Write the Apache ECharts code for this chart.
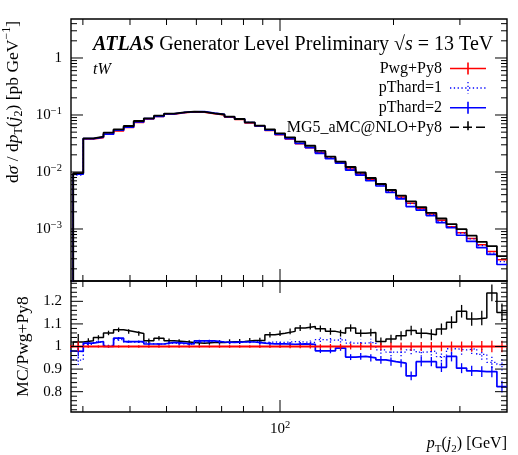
<!DOCTYPE html>
<html>
<head>
<meta charset="utf-8">
<title>tW pT(j2)</title>
<script src="https://cdn.jsdelivr.net/npm/echarts@6/dist/echarts.min.js"></script>
<style>
html, body { margin: 0; padding: 0; background: #fff; }
#chart { width: 518px; height: 455px; }
</style>
</head>
<body>
<div id="chart"></div>
<script>
// pT(j2) bin edges [GeV]
const binEdges = [26.589, 28.278, 30.075, 31.987, 34.020, 36.182, 38.481, 40.927, 43.528, 46.294,
  49.236, 52.365, 55.693, 59.232, 62.997, 67.000, 71.258, 75.786, 80.603, 85.725,
  91.173, 96.967, 103.13, 109.68, 116.65, 124.07, 131.95, 140.34, 149.26, 158.74,
  168.83, 179.56, 190.97, 203.11, 216.01, 229.74, 244.34, 259.87, 276.39, 293.95,
  312.63, 332.50, 353.63, 376.10, 400.00];

// dsigma/dpT for Pwg+Py8 [pb/GeV]
const pwgPy8 = [1e-5, 0.0094, 0.0380, 0.0400, 0.0461, 0.0522, 0.0601, 0.0742, 0.0854, 0.0937,
  0.1028, 0.1091, 0.1128, 0.1119, 0.1052, 0.1002, 0.0915, 0.0833, 0.0724, 0.0632,
  0.0533, 0.0450, 0.0381, 0.0314, 0.0265, 0.0217, 0.0174, 0.0144, 0.0113, 0.00925,
  0.00739, 0.00603, 0.00468, 0.00366, 0.00284, 0.00229, 0.00183, 0.00142, 0.00110, 0.00086,
  0.00068, 0.00053, 0.000405, 0.00029];

// MC / Pwg+Py8
const ratioPthard1 = [0.95, 0.94, 1.01, 1.02, 1.005, 1.03, 1.02, 1.02, 1.012, 1.01,
  1.015, 1.012, 1.01, 1.02, 1.022, 1.02, 1.018, 1.02, 1.022, 1.018,
  1.02, 1.018, 1.022, 1.02, 1.018, 1.03, 1.028, 1.03, 1.015, 1.015,
  1.018, 0.985, 0.975, 0.975, 0.985, 0.975, 0.98, 0.955, 0.99, 0.985,
  0.99, 0.965, 0.93, 0.92];
const ratioPthard2 = [0.98, 0.978, 1.015, 1.022, 1.0, 1.037, 1.022, 1.022, 1.011, 1.011,
  1.018, 1.015, 1.011, 1.025, 1.025, 1.02, 1.018, 1.02, 1.02, 1.015,
  1.012, 1.012, 1.01, 1.012, 1.01, 0.981, 0.981, 0.993, 0.953, 0.956,
  0.95, 0.941, 0.933, 0.926, 0.87, 0.933, 0.933, 0.908, 0.956, 0.904,
  0.892, 0.889, 0.889, 0.822];
const ratioMG5 = [1.0, 1.02, 1.025, 1.04, 1.06, 1.074, 1.066, 1.058, 1.025, 1.037,
  1.025, 1.022, 1.018, 1.014, 1.018, 1.018, 1.021, 1.022, 1.027, 1.027,
  1.052, 1.059, 1.067, 1.082, 1.089, 1.079, 1.067, 1.059, 1.082, 1.059,
  1.062, 1.022, 1.033, 1.048, 1.071, 1.059, 1.052, 1.077, 1.107, 1.156,
  1.122, 1.126, 1.237, 1.15];

// stat. uncertainties on the ratio
const errPwg = [0.03, 0.022, 0.006, 0.005, 0.005, 0.005, 0.005, 0.005, 0.005, 0.005,
  0.005, 0.005, 0.005, 0.005, 0.005, 0.006, 0.006, 0.006, 0.006, 0.007,
  0.007, 0.007, 0.008, 0.008, 0.009, 0.01, 0.011, 0.012, 0.013, 0.015,
  0.016, 0.017, 0.018, 0.018, 0.019, 0.02, 0.02, 0.021, 0.022, 0.022,
  0.023, 0.024, 0.025, 0.026];
const errMG5 = [0.04, 0.035, 0.012, 0.01, 0.01, 0.01, 0.01, 0.01, 0.01, 0.01,
  0.01, 0.01, 0.01, 0.01, 0.01, 0.01, 0.011, 0.011, 0.011, 0.012,
  0.012, 0.012, 0.013, 0.013, 0.014, 0.014, 0.015, 0.015, 0.016, 0.016,
  0.017, 0.018, 0.019, 0.02, 0.021, 0.022, 0.024, 0.025, 0.027, 0.028,
  0.03, 0.032, 0.037, 0.04];

const legendNames = ['Pwg+Py8', 'pThard=1', 'pThard=2', 'MG5_aMC@NLO+Py8'];
const xMajorTicks = [100];
const xMinorTicks = [30, 40, 50, 60, 70, 80, 90, 200, 300];
const ratioMajorTicks = [0.8, 0.9, 1.0, 1.1, 1.2];

const X_MIN = 27.9, X_MAX = 400;
const Y_MIN = 1.224e-4, Y_MAX = 4.83;
const R_MIN = 0.71, R_MAX = 1.29;
const FONT = '"Liberation Serif", "DejaVu Serif", serif';

// log minor ticks 2..9 x 10^k inside the y range
const yMajorTicks = [1e-3, 1e-2, 1e-1, 1];
const yMinorTicks = [];
for (let k = -4; k <= 0; k++) {
  for (let m = 2; m <= 9; m++) {
    const v = m * Math.pow(10, k);
    if (v > Y_MIN && v < Y_MAX) yMinorTicks.push(v);
  }
}
const ratioMinorTicks = [];
for (let t = 72; t <= 128; t += 2) {
  if (t % 10 !== 0) ratioMinorTicks.push(t / 100);
}

const mainPthard1 = pwgPy8.map((v, i) => v * ratioPthard1[i]);
const mainPthard2 = pwgPy8.map((v, i) => v * ratioPthard2[i]);
const mainMG5 = pwgPy8.map((v, i) => v * ratioMG5[i]);
const ratioPwg = pwgPy8.map(v => v / v);

function stepData(vals) {
  const d = vals.map((v, i) => [binEdges[i], v]);
  d.push([binEdges[vals.length], vals[vals.length - 1]]);
  return d;
}

function histo(vals, grid, color, width, type, z) {
  return {
    type: 'line', xAxisIndex: grid, yAxisIndex: grid, step: 'end',
    data: stepData(vals), symbol: 'none', showSymbol: false, silent: true,
    clip: true, z: z,
    lineStyle: { color: color, width: width, type: type }
  };
}

function errBars(vals, errs, color, dash, z) {
  const data = [];
  for (let i = 0; i < vals.length; i++) {
    const c = Math.sqrt(binEdges[i] * binEdges[i + 1]);
    if (c > X_MIN) data.push([c, vals[i], errs[i]]);
  }
  return {
    type: 'custom', xAxisIndex: 1, yAxisIndex: 1, silent: true, z: z, data: data,
    renderItem: function (params, api) {
      const x = api.value(0), y = api.value(1), e = api.value(2);
      const p1 = api.coord([x, y - e]);
      const p2 = api.coord([x, y + e]);
      return {
        type: 'line',
        shape: { x1: p1[0], y1: p1[1], x2: p2[0], y2: p2[1] },
        style: { stroke: color, lineWidth: 1.3, lineDash: dash }
      };
    }
  };
}

function seg(x1, y1, x2, y2) {
  return { type: 'line', shape: { x1: x1, y1: y1, x2: x2, y2: y2 }, style: { stroke: '#000', lineWidth: 1 } };
}

// inside ticks on all four sides of a panel
function ticks(grid, ref, yMaj, yMin) {
  return {
    type: 'custom', xAxisIndex: grid, yAxisIndex: grid, silent: true, z: 20,
    data: [ref],
    renderItem: function (params, api) {
      const cs = params.coordSys;
      const kids = [];
      const xs = xMajorTicks.map(v => [v, 12]).concat(xMinorTicks.map(v => [v, 6]));
      const ys = yMaj.map(v => [v, 12]).concat(yMin.map(v => [v, 6]));
      xs.forEach(function (t) {
        const px = api.coord([t[0], ref[1]])[0];
        kids.push(seg(px, cs.y, px, cs.y + t[1]));
        kids.push(seg(px, cs.y + cs.height, px, cs.y + cs.height - t[1]));
      });
      ys.forEach(function (t) {
        const py = api.coord([ref[0], t[0]])[1];
        kids.push(seg(cs.x, py, cs.x + t[1], py));
        kids.push(seg(cs.x + cs.width, py, cs.x + cs.width - t[1], py));
      });
      return { type: 'group', children: kids };
    }
  };
}

const richSmall = {
  n: { fontFamily: FONT, fontSize: 16, color: '#000', lineHeight: 22 },
  i: { fontFamily: FONT, fontSize: 16, fontStyle: 'italic', color: '#000', lineHeight: 22 },
  sub: { fontFamily: FONT, fontSize: 11, color: '#000', lineHeight: 11, verticalAlign: 'bottom' },
  sup: { fontFamily: FONT, fontSize: 11, color: '#000', lineHeight: 11, verticalAlign: 'top' }
};
const richYName = {
  n: { fontFamily: FONT, fontSize: 17.5, color: '#000', lineHeight: 24 },
  i: { fontFamily: FONT, fontSize: 17.5, fontStyle: 'italic', color: '#000', lineHeight: 24 },
  sub: { fontFamily: FONT, fontSize: 12, color: '#000', lineHeight: 12, verticalAlign: 'bottom' },
  sup: { fontFamily: FONT, fontSize: 12, color: '#000', lineHeight: 12, verticalAlign: 'top' }
};
const richTick = {
  b: { fontFamily: FONT, fontSize: 15, color: '#000', lineHeight: 18 },
  s: { fontFamily: FONT, fontSize: 10.5, color: '#000', lineHeight: 10, verticalAlign: 'top' }
};

function powLabel(v) {
  const e = Math.log10(v);
  const r = Math.round(e);
  if (Math.abs(e - r) > 1e-6) return '';
  if (r === 0) return '{b|1}';
  return '{b|10}{s|' + (r < 0 ? '\u2212' + (-r) : r) + '}';
}

const legendRows = [68.5, 88, 107.7, 127.3];
const legendStyles = [
  { stroke: '#ff0000', lineWidth: 1.6, lineDash: null },
  { stroke: '#0000ff', lineWidth: 1.3, lineDash: [1.3, 2.5] },
  { stroke: '#0000ff', lineWidth: 1.6, lineDash: null },
  { stroke: '#000000', lineWidth: 1.6, lineDash: [9, 4] }
];
const graphic = [];
legendNames.forEach(function (name, k) {
  const y = legendRows[k];
  const st = legendStyles[k];
  graphic.push({ type: 'text', x: 442, y: y, style: { text: name, textAlign: 'right', textVerticalAlign: 'middle', font: '16px ' + FONT, fill: '#000' } });
  graphic.push({ type: 'line', shape: { x1: 450, y1: y, x2: 486, y2: y }, style: st });
  graphic.push({ type: 'line', shape: { x1: 468, y1: y - 6, x2: 468, y2: y + 6 }, style: st });
});

const chart = echarts.init(document.getElementById('chart'));
chart.setOption({
  animation: false,
  backgroundColor: '#fff',
  title: [
    {
      left: 93, top: 33, padding: 0,
      text: '{a|ATLAS} {b|Generator Level Preliminary} {b|\u221a}{c|s}{b| = 13 TeV}',
      textStyle: {
        fontFamily: FONT, fontSize: 20, fontWeight: 'normal', color: '#000', lineHeight: 24,
        rich: {
          a: { fontFamily: FONT, fontSize: 20, fontWeight: 'bold', fontStyle: 'italic', color: '#000', lineHeight: 24 },
          b: { fontFamily: FONT, fontSize: 20, color: '#000', lineHeight: 24 },
          c: { fontFamily: FONT, fontSize: 20, fontStyle: 'italic', color: '#000', lineHeight: 24 }
        }
      }
    },
    {
      left: 93, top: 60, padding: 0, text: 'tW',
      textStyle: { fontFamily: FONT, fontSize: 16, fontStyle: 'italic', fontWeight: 'normal', color: '#000', lineHeight: 20 }
    },
    {
      right: 11, top: 433, padding: 0,
      text: '{i|p}{sub|T}{n|(}{i|j}{sub|2}{n|) [GeV]}',
      textStyle: { fontFamily: FONT, fontSize: 16, fontWeight: 'normal', color: '#000', lineHeight: 22, rich: richSmall }
    }
  ],
  graphic: graphic,
  grid: [
    { left: 71, right: 11, top: 19, height: 262, outerBoundsMode: 'none', show: true, borderColor: '#000', borderWidth: 1.4 },
    { left: 71, right: 11, top: 281, height: 131, outerBoundsMode: 'none', show: true, borderColor: '#000', borderWidth: 1.4 }
  ],
  xAxis: [
    {
      gridIndex: 0, type: 'log', logBase: 10, min: X_MIN, max: X_MAX,
      axisLine: { show: false }, axisTick: { show: false }, axisLabel: { show: false }, splitLine: { show: false }
    },
    {
      gridIndex: 1, type: 'log', logBase: 10, min: X_MIN, max: X_MAX,
      axisLine: { show: false }, axisTick: { show: false }, splitLine: { show: false },
      axisLabel: { show: true, margin: 8, formatter: powLabel, rich: richTick }
    }
  ],
  yAxis: [
    {
      gridIndex: 0, type: 'log', logBase: 10, min: Y_MIN, max: Y_MAX,
      axisLine: { show: false }, axisTick: { show: false }, splitLine: { show: false },
      axisLabel: { margin: 9, formatter: powLabel, rich: richTick },
      name: '{n|d}{i|\u03c3}{n| / d}{i|p}{sub|T}{n|(}{i|j}{sub|2}{n|) [pb GeV}{sup|\u22121}{n|]}',
      nameLocation: 'middle', nameRotate: 90, nameGap: 40,
      nameTextStyle: { fontFamily: FONT, fontSize: 17.5, color: '#000', padding: [0, 0, 0, 96], rich: richYName }
    },
    {
      gridIndex: 1, type: 'value', min: R_MIN, max: R_MAX, interval: 0.01,
      axisLine: { show: false }, axisTick: { show: false }, splitLine: { show: false },
      axisLabel: {
        margin: 9, interval: 0, fontFamily: FONT, fontSize: 15, color: '#000',
        formatter: function (v) {
          const t = Math.round(v * 100);
          return t % 10 === 0 ? String(t / 100) : '';
        }
      },
      name: 'MC/Pwg+Py8', nameLocation: 'middle', nameRotate: 90, nameGap: 36,
      nameTextStyle: { fontFamily: FONT, fontSize: 17.5, color: '#000' }
    }
  ],
  series: [
    histo(pwgPy8, 0, '#ff0000', 1.5, 'solid', 2),
    histo(mainPthard1, 0, '#0000ff', 1.3, [1.3, 2.5], 3),
    histo(mainPthard2, 0, '#0000ff', 1.7, 'solid', 4),
    histo(mainMG5, 0, '#000000', 1.8, 'solid', 5),

    histo(ratioMG5, 1, '#000000', 1.5, 'solid', 2),
    errBars(ratioMG5, errMG5, '#000000', null, 2),
    histo(ratioPthard2, 1, '#0000ff', 1.7, 'solid', 3),
    errBars(ratioPthard2, errPwg, '#0000ff', null, 3),
    histo(ratioPthard1, 1, '#0000ff', 1.3, [1.3, 2.5], 4),
    errBars(ratioPthard1, errPwg, '#0000ff', [1.3, 2], 4),
    histo(ratioPwg, 1, '#ff0000', 2, 'solid', 6),
    errBars(ratioPwg, errPwg, '#ff0000', null, 6),

    ticks(0, [100, 0.01], yMajorTicks, yMinorTicks),
    ticks(1, [100, 1], ratioMajorTicks, ratioMinorTicks)
  ]
});
</script>
</body>
</html>
